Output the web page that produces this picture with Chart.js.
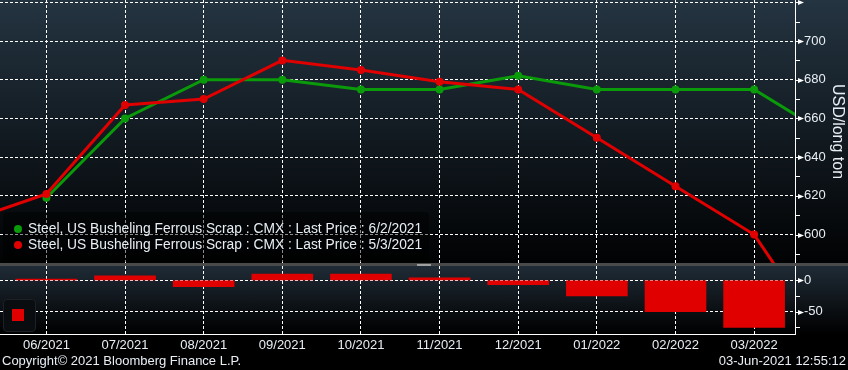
<!DOCTYPE html>
<html>
<head>
<meta charset="utf-8">
<script src="https://cdn.jsdelivr.net/npm/chart.js@4.4.1/dist/chart.umd.min.js"></script>
<style>
  body { margin: 0; width: 848px; height: 370px; overflow: hidden; background: #000; position: relative;
         font-family: 'Liberation Sans', Arial, sans-serif; color: #e8eef4; }
  .abs { position: absolute; }
  #bgTop { left: 0; top: 0; width: 848px; height: 263px; background: linear-gradient(#243441, #010203); }
  #sep { left: 0; top: 263px; width: 848px; height: 3px; background: #4a4a4a; }
  #grip { left: 417px; top: 264px; width: 14px; height: 1px; border-top: 1px solid #a0a0a0; border-bottom: 1px solid #a0a0a0; height: 0; }
  #bgBot { left: 0; top: 266px; width: 848px; height: 68px; background: linear-gradient(#1f2b36, #000); }
  #legend { left: 3px; top: 212px; width: 426px; height: 50px; background: rgba(0,0,0,0.45); border-radius: 4px; font-size: 13.8px; }
  #legend div { position: absolute; left: 25px; white-space: nowrap; }
  #legend span { position: absolute; left: -14px; top: 4px; width: 8px; height: 8px; border-radius: 50%; }
  #miniLeg { left: 3px; top: 299px; width: 31px; height: 31px; background: #0a0d10; border: 1px solid #1b2127; border-radius: 4px; }
  #miniLeg div { position: absolute; left: 8px; top: 9px; width: 12px; height: 12px; background: #e00000; }
  #copy { left: 2px; top: 353px; font-size: 13px; white-space: nowrap; }
  #stamp { right: 2px; top: 353px; font-size: 13px; white-space: nowrap; }
</style>
</head>
<body>
<div id="bgTop" class="abs"></div>
<div id="bgBot" class="abs"></div>
<canvas id="topChart" class="abs" style="left:0;top:0" width="848" height="263"></canvas>
<canvas id="botChart" class="abs" style="left:0;top:266px" width="848" height="104"></canvas>
<div id="sep" class="abs"></div>
<div id="grip" class="abs"></div>
<div id="legend" class="abs">
  <div style="top:9px"><span style="background:#0a9a0a"></span>Steel, US Busheling Ferrous Scrap : CMX : Last Price : 6/2/2021</div>
  <div style="top:25px"><span style="background:#e00000"></span>Steel, US Busheling Ferrous Scrap : CMX : Last Price : 5/3/2021</div>
</div>
<div id="miniLeg" class="abs"><div></div></div>
<div id="copy" class="abs">Copyright© 2021 Bloomberg Finance L.P.</div>
<div id="stamp" class="abs">03-Jun-2021 12:55:12</div>
<script>
// contract months; first and last only feed the lines running off the edges
var months = ['05/2021', '06/2021', '07/2021', '08/2021', '09/2021', '10/2021', '11/2021',
  '12/2021', '01/2022', '02/2022', '03/2022', '04/2022'];
var curveJun2 = [null, 619, 660, 680, 680, 675, 675, 682, 675, 675, 675, 650];
var curveMay3 = [607, 621, 667, 670, 690, 685, 679, 675, 650, 625, 600, 540];
var spread = [null, 2, 7, -10, 10, 10, 4, -7, -25, -50, -75, null];

var GREEN = '#0a9a0a', RED = '#e00000', TXT = '#e8eef4';
Chart.defaults.font.family = "'Liberation Sans', Arial, sans-serif";
Chart.defaults.font.size = 13;
Chart.defaults.color = TXT;

function pts(arr) {
  var out = [];
  arr.forEach(function (v, i) { if (v !== null) out.push({ x: i - 1, y: v }); });
  return out;
}
function noPad(s) { s.paddingTop = 0; s.paddingBottom = 0; s.paddingLeft = 0; s.paddingRight = 0; }
function monthLabel(v) { return Number.isInteger(v) ? months[v + 1] : ''; }

// arrow marks on major ticks, short marks on minor ones
var tickMarks = {
  id: 'tickMarks',
  afterDraw: function (chart, args, opts) {
    var s = chart.scales.y, ctx = chart.ctx, x0 = s.left;
    ctx.save();
    ctx.fillStyle = '#fff'; ctx.strokeStyle = '#fff'; ctx.lineWidth = 1;
    s.ticks.forEach(function (t) {
      var y = Math.round(s.getPixelForValue(t.value)) + 0.5;
      if (t.value % opts.major === 0) {
        ctx.beginPath(); ctx.moveTo(x0, y); ctx.lineTo(x0 + 4, y); ctx.stroke();
        ctx.beginPath(); ctx.moveTo(x0 + 3, y - 2.5); ctx.lineTo(x0 + 9, y); ctx.lineTo(x0 + 3, y + 2.5); ctx.closePath(); ctx.fill();
      } else {
        ctx.beginPath(); ctx.moveTo(x0, y); ctx.lineTo(x0 + 5, y); ctx.stroke();
      }
    });
    ctx.restore();
  }
};

var xCommon = {
  type: 'linear', min: -0.59, max: 9.52, offset: false,
  grid: { color: '#fff', lineWidth: 1, drawTicks: false, offset: false },
  border: { dash: [3, 2] }
};

new Chart(document.getElementById('topChart'), {
  type: 'line',
  data: {
    datasets: [
      { label: '5/3/2021', data: pts(curveMay3), borderColor: RED, backgroundColor: RED },
      { label: '6/2/2021', data: pts(curveJun2), borderColor: GREEN, backgroundColor: GREEN }
    ]
  },
  options: {
    responsive: false, animation: false, devicePixelRatio: 1,
    layout: { padding: 0, autoPadding: false },
    elements: {
      line: { borderWidth: 3, tension: 0 },
      point: { radius: 4, borderWidth: 0, hoverRadius: 4 }
    },
    plugins: { legend: { display: false }, tooltip: { enabled: false }, tickMarks: { major: 20 } },
    scales: {
      x: Object.assign({}, xCommon, {
        ticks: { display: false, stepSize: 1, includeBounds: false, maxTicksLimit: 30 },
        border: { display: false, dash: [3, 2] },
        afterFit: function (s) { s.height = 0; noPad(s); }
      }),
      y: {
        position: 'right', min: 585.3, max: 721.2,
        ticks: {
          stepSize: 10, includeBounds: false, padding: 1, color: TXT, maxTicksLimit: 30,
          callback: function (v) { return (v % 20 === 0 && v < 720) ? String(v) : ''; }
        },
        grid: {
          tickLength: 8, tickColor: 'rgba(0,0,0,0)',
          color: function (c) { return c.tick && c.tick.value % 20 === 0 ? '#fff' : 'rgba(0,0,0,0)'; }
        },
        border: { display: true, color: '#fff', width: 1, dash: [3, 2] },
        title: { display: true, text: 'USD/long ton', color: TXT, font: { size: 16 }, padding: { top: 1, bottom: 0 } },
        afterFit: function (s) { s.width = 53; noPad(s); }
      }
    }
  },
  plugins: [tickMarks]
});

new Chart(document.getElementById('botChart'), {
  type: 'bar',
  data: {
    datasets: [{ label: 'Spread', data: pts(spread), backgroundColor: RED, barThickness: 61 }]
  },
  options: {
    responsive: false, animation: false, devicePixelRatio: 1,
    layout: { padding: 0, autoPadding: false },
    plugins: { legend: { display: false }, tooltip: { enabled: false }, tickMarks: { major: 50 } },
    scales: {
      x: Object.assign({}, xCommon, {
        ticks: { stepSize: 1, includeBounds: false, padding: 4, color: TXT, maxRotation: 0, autoSkip: false, maxTicksLimit: 30, callback: monthLabel },
        border: { display: true, color: '#fff', width: 1, dash: [3, 2] },
        afterFit: function (s) { s.height = 36; noPad(s); }
      }),
      y: {
        position: 'right', min: -85.5, max: 22.8,
        ticks: {
          stepSize: 25, includeBounds: false, padding: 1, color: TXT,
          callback: function (v) { return v % 50 === 0 ? String(v) : ''; }
        },
        grid: {
          tickLength: 8, tickColor: 'rgba(0,0,0,0)',
          color: function (c) { return c.tick && c.tick.value % 50 === 0 ? '#fff' : 'rgba(0,0,0,0)'; }
        },
        border: { display: true, color: '#fff', width: 1, dash: [3, 2] },
        afterFit: function (s) { s.width = 53; noPad(s); }
      }
    }
  },
  plugins: [tickMarks]
});
</script>
</body>
</html>
